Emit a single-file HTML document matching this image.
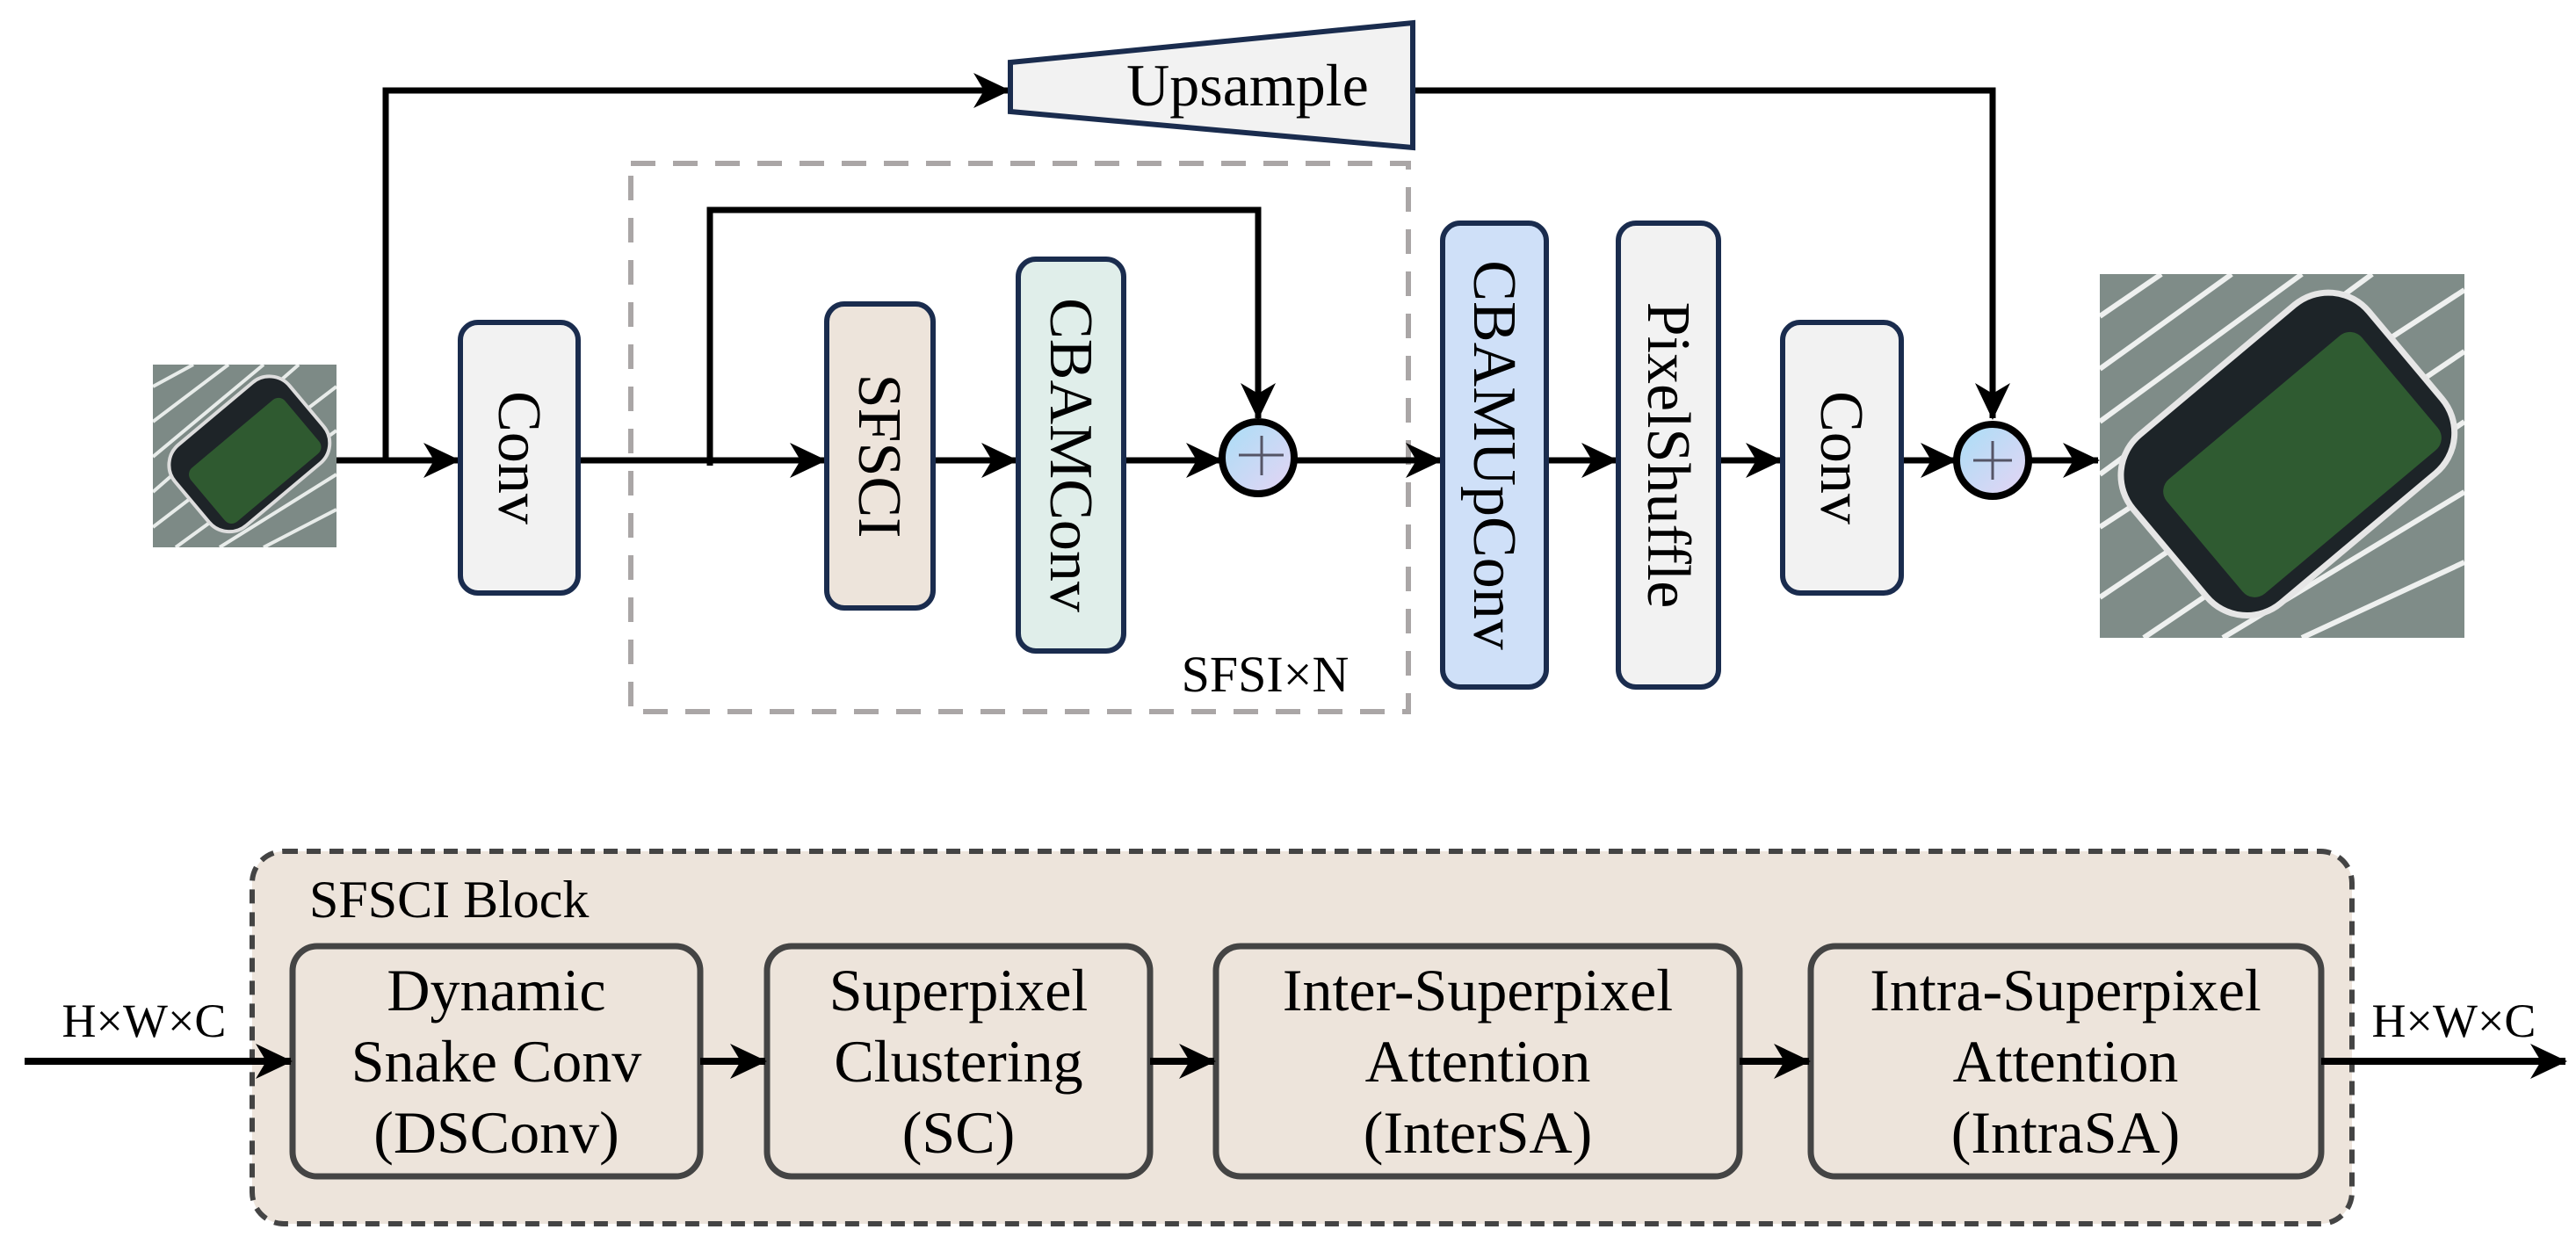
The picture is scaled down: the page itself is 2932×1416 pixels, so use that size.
<!DOCTYPE html>
<html><head><meta charset="utf-8"><style>
html,body{margin:0;padding:0;background:#fff;}
svg{display:block;}
svg text{font-family:"Liberation Serif","Times New Roman","DejaVu Serif",serif;fill:#000;}
</style></head><body>
<svg width="2932" height="1416" viewBox="0 0 2932 1416" xmlns="http://www.w3.org/2000/svg" font-family="Liberation Serif, Times New Roman, DejaVu Serif, serif">
<defs>
<marker id="ah" markerWidth="44" markerHeight="44" refX="40" refY="22" markerUnits="userSpaceOnUse" orient="auto">
<path d="M0,2 L42,22 L0,42 L12,22 Z" fill="#000"/>
</marker>
<linearGradient id="cg" x1="0" y1="0" x2="1" y2="1">
<stop offset="0" stop-color="#a8def6"/><stop offset="1" stop-color="#e6d4f4"/>
</linearGradient>
<clipPath id="c1"><rect x="174" y="415" width="209" height="208"/></clipPath>
<clipPath id="c2"><rect x="2390" y="312" width="415" height="414"/></clipPath>
</defs>

<!-- input image -->
<g clip-path="url(#c1)">
<rect x="174" y="415" width="209" height="208" fill="#7d8a86"/>
<g stroke="#e8ecea" stroke-width="4">
<path d="M174,440 L220,415 M174,480 L260,415 M174,520 L300,415 M174,560 L340,415 M174,600 L383,440 M200,623 L383,490 M250,623 L383,540 M300,623 L383,580"/>
</g>
<g transform="rotate(-40 280 520)">
<rect x="200" y="460" width="170" height="120" rx="30" fill="#1e2428" stroke="#ddd" stroke-width="4"/>
<rect x="215" y="490" width="140" height="80" rx="10" fill="#2f5a30"/>
</g>
</g>

<!-- output image -->
<g clip-path="url(#c2)">
<rect x="2390" y="312" width="415" height="414" fill="#7f8c88"/>
<g stroke="#eef0ef" stroke-width="6">
<path d="M2390,360 L2460,312 M2390,420 L2540,312 M2390,480 L2620,312 M2390,540 L2700,312 M2390,600 L2805,330 M2390,680 L2805,400 M2440,726 L2805,480 M2530,726 L2805,560 M2620,726 L2805,640"/>
</g>
<g transform="rotate(-40 2600 520)">
<rect x="2430" y="395" width="350" height="250" rx="60" fill="#1d2428" stroke="#e6e6e6" stroke-width="7"/>
<rect x="2465" y="455" width="290" height="170" rx="18" fill="#2f5b31"/>
</g>
</g>

<!-- dashed SFSI box -->
<rect x="718" y="186" width="885" height="624" fill="none" stroke="#aaa6a6" stroke-width="6" stroke-dasharray="28,20"/>

<!-- connectors top -->
<g stroke="#000" stroke-width="7" fill="none">
<line x1="383" y1="524" x2="522" y2="524" marker-end="url(#ah)"/>
<polyline points="439,524 439,103 1148,103" marker-end="url(#ah)"/>
<polyline points="1608,103 2268,103 2268,476" marker-end="url(#ah)"/>
<line x1="658" y1="524" x2="939" y2="524" marker-end="url(#ah)"/>
<polyline points="808,530 808,239 1432,239 1432,476" marker-end="url(#ah)"/>
<line x1="1062" y1="524" x2="1157" y2="524" marker-end="url(#ah)"/>
<line x1="1279" y1="524" x2="1390" y2="524" marker-end="url(#ah)"/>
<line x1="1476" y1="524" x2="1640" y2="524" marker-end="url(#ah)"/>
<line x1="1760" y1="524" x2="1840" y2="524" marker-end="url(#ah)"/>
<line x1="1956" y1="524" x2="2027" y2="524" marker-end="url(#ah)"/>
<line x1="2164" y1="524" x2="2226" y2="524" marker-end="url(#ah)"/>
<line x1="2312" y1="524" x2="2388" y2="524" marker-end="url(#ah)"/>
</g>

<!-- Upsample -->
<polygon points="1150,71 1608,26 1608,168 1150,127" fill="#f2f2f2" stroke="#1a2c4e" stroke-width="6"/>
<text x="1420" y="120" font-size="68" text-anchor="middle">Upsample</text>

<!-- boxes -->
<g stroke="#1a2c4e" stroke-width="6">
<rect x="524" y="367" width="134" height="308" rx="20" fill="#f2f2f2"/>
<rect x="941" y="346" width="121" height="346" rx="20" fill="#ede4db"/>
<rect x="1159" y="295" width="120" height="446" rx="20" fill="#e0eeea"/>
<rect x="1642" y="254" width="118" height="528" rx="20" fill="#cfe0f8"/>
<rect x="1842" y="254" width="114" height="528" rx="20" fill="#f2f2f2"/>
<rect x="2029" y="367" width="135" height="308" rx="20" fill="#f2f2f2"/>
</g>
<g font-size="70">
<text transform="translate(591,521) rotate(90)" text-anchor="middle" dy="23">Conv</text>
<text transform="translate(1001,519) rotate(90)" text-anchor="middle" dy="23">SFSCI</text>
<text transform="translate(1219,518) rotate(90)" text-anchor="middle" dy="23">CBAMConv</text>
<text transform="translate(1701,518) rotate(90)" text-anchor="middle" dy="23">CBAMUpConv</text>
<text transform="translate(1899,518) rotate(90)" text-anchor="middle" dy="23">PixelShuffle</text>
<text transform="translate(2096,521) rotate(90)" text-anchor="middle" dy="23">Conv</text>
</g>

<!-- circles -->
<g>
<circle cx="1432" cy="521" r="41" fill="url(#cg)" stroke="#000" stroke-width="8"/>
<path d="M1410,518 H1461 M1436,496 V541" stroke="#556" stroke-width="3"/>
<circle cx="2268" cy="524" r="41" fill="url(#cg)" stroke="#000" stroke-width="8"/>
<path d="M2246,524 H2290 M2268,502 V546" stroke="#556" stroke-width="3"/>
</g>

<text x="1440" y="787" font-size="58" text-anchor="middle">SFSI×N</text>

<!-- bottom block -->
<rect x="287" y="969" width="2390" height="424" rx="36" fill="#ede4db" stroke="#444" stroke-width="6" stroke-dasharray="16,10"/>
<text x="352" y="1044" font-size="60">SFSCI Block</text>
<g stroke="#444" stroke-width="7" fill="#ede4db">
<rect x="333" y="1077" width="464" height="262" rx="28"/>
<rect x="873" y="1077" width="436" height="262" rx="28"/>
<rect x="1384" y="1077" width="596" height="262" rx="28"/>
<rect x="2061" y="1077" width="581" height="262" rx="28"/>
</g>
<g font-size="68" text-anchor="middle">
<text x="565" y="1150">Dynamic</text>
<text x="565" y="1231">Snake Conv</text>
<text x="565" y="1312">(DSConv)</text>
<text x="1091" y="1150">Superpixel</text>
<text x="1091" y="1231">Clustering</text>
<text x="1091" y="1312">(SC)</text>
<text x="1682" y="1150">Inter-Superpixel</text>
<text x="1682" y="1231">Attention</text>
<text x="1682" y="1312">(InterSA)</text>
<text x="2351" y="1150">Intra-Superpixel</text>
<text x="2351" y="1231">Attention</text>
<text x="2351" y="1312">(IntraSA)</text>
</g>
<g stroke="#000" stroke-width="8">
<line x1="28" y1="1208" x2="331" y2="1208" marker-end="url(#ah)"/>
<line x1="797" y1="1208" x2="871" y2="1208" marker-end="url(#ah)"/>
<line x1="1309" y1="1208" x2="1382" y2="1208" marker-end="url(#ah)"/>
<line x1="1980" y1="1208" x2="2059" y2="1208" marker-end="url(#ah)"/>
<line x1="2642" y1="1208" x2="2920" y2="1208" marker-end="url(#ah)"/>
</g>
<text x="164" y="1180" font-size="54" text-anchor="middle">H×W×C</text>
<text x="2793" y="1180" font-size="54" text-anchor="middle">H×W×C</text>
</svg>
</body></html>
